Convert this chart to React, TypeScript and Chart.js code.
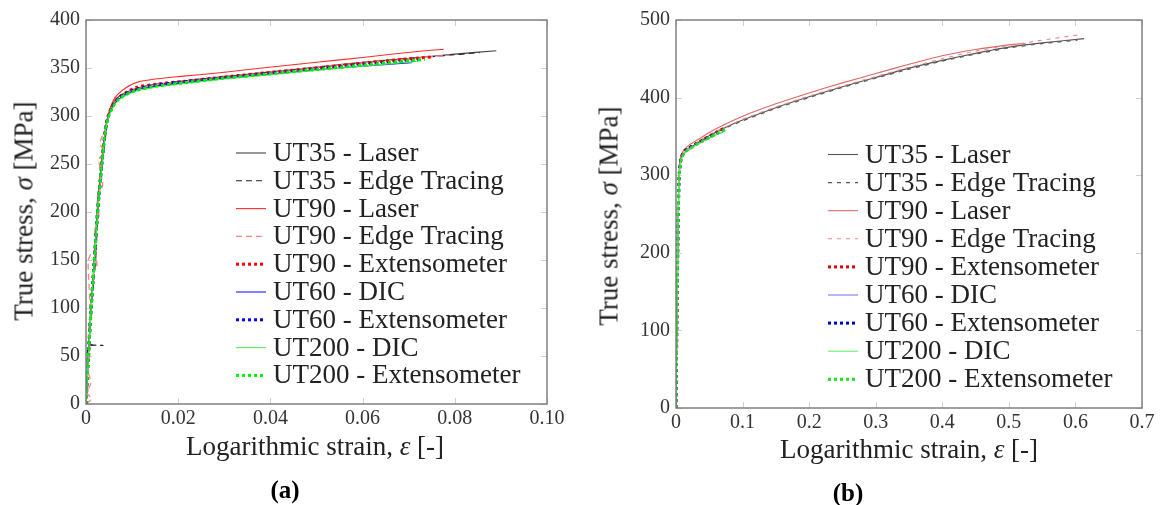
import React, { useEffect, useRef } from "react";
import { Chart, registerables } from "chart.js";

Chart.register(...registerables);

type Pt = [number, number];

// ---------- labels ----------
const SERIES_LABELS = [
  "UT35 - Laser",
  "UT35 - Edge Tracing",
  "UT90 - Laser",
  "UT90 - Edge Tracing",
  "UT90 - Extensometer",
  "UT60 - DIC",
  "UT60 - Extensometer",
  "UT200 - DIC",
  "UT200 - Extensometer",
];

// ---------- ticks ----------
const X_TICKS_A = [0, 0.02, 0.04, 0.06, 0.08, 0.1];
const X_TICK_LABELS_A = ["0", "0.02", "0.04", "0.06", "0.08", "0.10"];
const Y_TICKS_A = [0, 50, 100, 150, 200, 250, 300, 350, 400];
const X_TICKS_B = [0, 0.1, 0.2, 0.3, 0.4, 0.5, 0.6, 0.7];
const X_TICK_LABELS_B = ["0", "0.1", "0.2", "0.3", "0.4", "0.5", "0.6", "0.7"];
const Y_TICKS_B = [0, 100, 200, 300, 400, 500];

// ---------- data: panel (a) laser / edge tracing (strain, stress) ----------
const UT35_LASER_A: Pt[] = [
  [0, 0], [0.0005, 50], [0.0011, 100], [0.0018, 150], [0.00245, 200], [0.0034, 250],
  [0.0042, 285], [0.0048, 300], [0.0056, 311], [0.0066, 318], [0.008, 323], [0.011, 329],
  [0.015, 333], [0.02, 336], [0.03, 341], [0.04, 346], [0.05, 351], [0.06, 356],
  [0.0724, 361], [0.08, 364.5], [0.089, 368],
];
const UT35_EDGE_A: Pt[] = [
  [0, 0], [0.0003, 30], [0.0005, 60], [0.0037, 61], [0.0008, 63], [0.0012, 100],
  [0.0017, 130], [0.0021, 150], [0.0026, 200], [0.0033, 240], [0.0045, 288], [0.005, 300],
  [0.0058, 311], [0.0068, 318], [0.0085, 323], [0.011, 328], [0.015, 332], [0.02, 335.5],
  [0.03, 340.5], [0.04, 345.5], [0.05, 350.5], [0.06, 355.5], [0.07, 360], [0.078, 363],
  [0.0854, 366],
];
const UT90_LASER_A: Pt[] = [
  [0, 0], [0.0005, 50], [0.0011, 100], [0.0018, 150], [0.0024, 200], [0.0033, 250],
  [0.0044, 292], [0.0051, 306], [0.006, 317], [0.007, 323], [0.0085, 329], [0.011, 335],
  [0.015, 338.5], [0.02, 341], [0.029, 345], [0.0377, 349.7], [0.05, 356], [0.06, 361],
  [0.0724, 367.5], [0.0776, 369.5],
];
const UT90_EDGE_A: Pt[] = [
  [0, 0], [0.0012, 5], [0.0002, 12], [0.0011, 22], [0.0004, 35], [0.0009, 55],
  [0.0005, 72], [0.0009, 95], [0.0007, 120], [0.0005, 150], [0.0016, 160], [0.0024, 142],
  [0.0019, 180], [0.0028, 195], [0.0024, 215], [0.0036, 228], [0.0028, 255], [0.0039, 262],
  [0.003, 272], [0.0041, 285], [0.0048, 298], [0.0058, 311], [0.007, 319], [0.01, 327],
  [0.015, 332], [0.02, 336], [0.03, 341.5], [0.04, 346], [0.05, 351], [0.06, 355.5],
  [0.07, 359.5], [0.079, 363.5],
];

// ---------- data: extensometer / DIC (shared by both panels) ----------
const UT90_EXT: Pt[] = [
  [0, 0], [0.0005, 50], [0.0011, 100], [0.0018, 150], [0.0025, 200], [0.0034, 250],
  [0.0043, 290], [0.005, 303], [0.006, 313], [0.007, 319], [0.0085, 324], [0.011, 330],
  [0.015, 333], [0.02, 335.5], [0.03, 340.5], [0.04, 345.5], [0.05, 350], [0.06, 355],
  [0.0675, 358.5], [0.0752, 361.5],
];
const UT60_DIC: Pt[] = [
  [0, 0], [0.0005, 48], [0.0011, 98], [0.0018, 148], [0.0025, 198], [0.0034, 248],
  [0.0043, 288], [0.005, 301], [0.006, 311], [0.007, 317], [0.0085, 322], [0.011, 327],
  [0.015, 331], [0.02, 334], [0.03, 339], [0.04, 343.5], [0.05, 348], [0.06, 352],
  [0.0706, 355.5],
];
const UT60_EXT: Pt[] = [
  [0, 0], [0.0005, 49], [0.0011, 99], [0.0018, 149], [0.0025, 199], [0.0034, 249],
  [0.0043, 289], [0.005, 302], [0.006, 312], [0.007, 318], [0.0085, 323], [0.011, 328],
  [0.015, 332], [0.02, 335], [0.03, 340], [0.04, 344.5], [0.05, 349], [0.06, 353.5],
  [0.072, 358],
];
const UT200_DIC: Pt[] = [
  [0, 0], [0.0005, 48], [0.0011, 97], [0.0018, 147], [0.0025, 197], [0.0034, 247],
  [0.0043, 287], [0.005, 300], [0.006, 310], [0.007, 316], [0.0085, 321], [0.011, 326],
  [0.015, 330], [0.02, 333], [0.03, 338.5], [0.04, 343], [0.05, 347.5], [0.06, 352],
  [0.072, 357],
];
const UT200_EXT: Pt[] = [
  [0, 0], [0.0005, 49], [0.0011, 99], [0.0018, 149], [0.0025, 199], [0.0034, 249],
  [0.0043, 289], [0.005, 301], [0.006, 311], [0.007, 317], [0.0085, 322], [0.011, 327],
  [0.015, 331], [0.02, 334], [0.03, 339.5], [0.04, 344], [0.05, 348.5], [0.06, 353],
  [0.0735, 359],
];

// ---------- data: panel (b) laser / edge tracing ----------
const UT35_LASER_B: Pt[] = [
  [0, 0], [0.002, 150], [0.004, 280], [0.006, 315], [0.01, 326], [0.02, 334],
  [0.035, 343], [0.05, 351], [0.07, 360], [0.1, 371], [0.15, 387], [0.2, 401],
  [0.25, 414], [0.3, 426], [0.35, 438], [0.4, 448], [0.45, 457], [0.5, 465],
  [0.55, 470.5], [0.613, 476],
];
const UT35_EDGE_B: Pt[] = [
  [0, 0], [0.002, 145], [0.004, 275], [0.006, 313], [0.01, 325], [0.02, 333],
  [0.035, 342], [0.05, 350], [0.07, 359], [0.1, 370], [0.15, 386], [0.2, 400],
  [0.25, 413], [0.3, 425], [0.35, 436.5], [0.4, 447], [0.45, 456], [0.5, 464],
  [0.55, 469.5], [0.603, 474],
];
const UT90_LASER_B: Pt[] = [
  [0, 0], [0.002, 160], [0.004, 285], [0.006, 320], [0.01, 330], [0.02, 339],
  [0.035, 347], [0.05, 355], [0.07, 364], [0.1, 376], [0.15, 392], [0.2, 406],
  [0.25, 419], [0.3, 431], [0.35, 443], [0.4, 454], [0.45, 462], [0.5, 468],
  [0.525, 470],
];
const UT90_EDGE_B: Pt[] = [
  [0, 0], [0.003, 220], [0.005, 300], [0.01, 327], [0.02, 336], [0.05, 352],
  [0.1, 372], [0.15, 388], [0.2, 402], [0.25, 415], [0.3, 427], [0.35, 439],
  [0.4, 450], [0.45, 460], [0.5, 467], [0.55, 474], [0.61, 481.5],
];

// ---------- styles ----------
const DOT = [3, 3];
const STYLE_A = [
  { color: "#444444", dash: [], width: 1.1 },
  { color: "#222222", dash: [6, 4], width: 1.1 },
  { color: "#ff2a2a", dash: [], width: 1.1 },
  { color: "#ff8080", dash: [6, 4], width: 1.3 },
  { color: "#ff0000", dash: DOT, width: 3 },
  { color: "#1a1aff", dash: [], width: 1.1 },
  { color: "#0000ff", dash: DOT, width: 3 },
  { color: "#55f055", dash: [], width: 1.1 },
  { color: "#00f000", dash: DOT, width: 3 },
];
const STYLE_B = [
  { color: "#555555", dash: [], width: 1.1 },
  { color: "#555555", dash: [4, 5], width: 1.1 },
  { color: "#e06666", dash: [], width: 1.1 },
  { color: "#ee8888", dash: [4, 5], width: 1.1 },
  { color: "#e00000", dash: DOT, width: 3 },
  { color: "#7b7bf0", dash: [], width: 1.1 },
  { color: "#0000cc", dash: DOT, width: 3 },
  { color: "#66ee66", dash: [], width: 1.1 },
  { color: "#22dd22", dash: DOT, width: 3 },
];

const FONT = '"Liberation Serif", "Times New Roman", serif';

const framePlugin = {
  id: "frame",
  beforeDatasetsDraw(chart: any) {
    const { ctx, chartArea: a, scales } = chart;
    ctx.save();
    ctx.strokeStyle = "#cfcfcf";
    ctx.lineWidth = 1;
    const L = 6;
    ctx.beginPath();
    for (const t of scales.x.ticks) {
      const px = Math.round(scales.x.getPixelForValue(t.value)) + 0.5;
      ctx.moveTo(px, a.bottom);
      ctx.lineTo(px, a.bottom - L);
      ctx.moveTo(px, a.top);
      ctx.lineTo(px, a.top + L);
    }
    for (const t of scales.y.ticks) {
      const py = Math.round(scales.y.getPixelForValue(t.value)) + 0.5;
      ctx.moveTo(a.left, py);
      ctx.lineTo(a.left + L, py);
      ctx.moveTo(a.right, py);
      ctx.lineTo(a.right - L, py);
    }
    ctx.stroke();
    ctx.restore();
  },
  afterDatasetsDraw(chart: any) {
    const { ctx, chartArea: a } = chart;
    ctx.save();
    ctx.strokeStyle = "#777777";
    ctx.lineWidth = 1.4;
    ctx.strokeRect(a.left, a.top, a.right - a.left, a.bottom - a.top);
    ctx.restore();
  },
  afterDraw(chart: any, _args: any, opts: any) {
    const lg = opts && opts.legend;
    if (!lg) return;
    const { ctx } = chart;
    ctx.save();
    ctx.font = `${lg.fontSize}px ${FONT}`;
    ctx.textBaseline = "middle";
    chart.data.datasets.forEach((ds: any, i: number) => {
      const y = lg.y0 + i * lg.dy;
      ctx.beginPath();
      ctx.setLineDash(ds.borderDash || []);
      ctx.strokeStyle = ds.borderColor;
      ctx.lineWidth = ds.borderWidth;
      ctx.moveTo(lg.x0, y);
      ctx.lineTo(lg.x1, y);
      ctx.stroke();
      ctx.setLineDash([]);
      ctx.fillStyle = "#222222";
      ctx.fillText(ds.label, lg.tx, y + 1);
    });
    ctx.restore();
  },
};

function makeConfig(
  series: Pt[][],
  styles: { color: string; dash: number[]; width: number }[],
  xTicks: number[],
  xLabels: string[],
  yTicks: number[],
  xMax: number,
  yMax: number,
  padding: { left: number; right: number; top: number; bottom: number },
  legend: any
) {
  const n = series.length;
  return {
    type: "scatter" as const,
    data: {
      datasets: series.map((s, i) => ({
        label: SERIES_LABELS[i],
        data: s.map(([x, y]) => ({ x, y })),
        showLine: true,
        pointRadius: 0,
        borderColor: styles[i].color,
        backgroundColor: styles[i].color,
        borderDash: styles[i].dash,
        borderWidth: styles[i].width,
        tension: 0.2,
        order: n - i,
      })),
    },
    options: {
      responsive: false,
      animation: false as const,
      events: [],
      layout: { padding },
      plugins: {
        legend: { display: false },
        tooltip: { enabled: false },
        frame: { legend },
      },
      scales: {
        x: {
          type: "linear" as const,
          min: 0,
          max: xMax,
          afterBuildTicks: (s: any) => {
            s.ticks = xTicks.map((v) => ({ value: v }));
          },
          afterFit: (s: any) => {
            s.height = 40;
          },
          grid: { display: false, drawTicks: false },
          border: { display: false },
          ticks: {
            autoSkip: false,
            maxRotation: 0,
            padding: 3,
            color: "#333333",
            font: { family: FONT, size: 20 },
            callback: (_v: any, i: number) => xLabels[i],
          },
        },
        y: {
          type: "linear" as const,
          min: 0,
          max: yMax,
          afterBuildTicks: (s: any) => {
            s.ticks = yTicks.map((v) => ({ value: v }));
          },
          afterFit: (s: any) => {
            s.width = 60;
          },
          grid: { display: false, drawTicks: false },
          border: { display: false },
          ticks: {
            autoSkip: false,
            padding: 6,
            color: "#333333",
            font: { family: FONT, size: 20 },
            callback: (v: any) => String(v),
          },
        },
      },
    },
    plugins: [framePlugin],
  };
}

function Panel({ left, width, cfg }: { left: number; width: number; cfg: () => any }) {
  const ref = useRef<HTMLCanvasElement | null>(null);
  useEffect(() => {
    if (!ref.current) return;
    const chart = new Chart(ref.current, cfg());
    return () => chart.destroy();
  }, []);
  return (
    <canvas
      ref={ref}
      width={width}
      height={505}
      style={{ position: "absolute", left, top: 0, width, height: 505 }}
    />
  );
}

const textBase: React.CSSProperties = {
  position: "absolute",
  fontFamily: FONT,
  fontSize: 27,
  lineHeight: 1,
  whiteSpace: "nowrap",
  color: "#222222",
};

export default function App() {
  const cfgA = () =>
    makeConfig(
      [UT35_LASER_A, UT35_EDGE_A, UT90_LASER_A, UT90_EDGE_A, UT90_EXT, UT60_DIC, UT60_EXT, UT200_DIC, UT200_EXT],
      STYLE_A,
      X_TICKS_A,
      X_TICK_LABELS_A,
      Y_TICKS_A,
      0.1,
      400,
      { left: 26, right: 23, top: 20, bottom: 61 },
      { x0: 236, x1: 266, tx: 273, y0: 153, dy: 27.8, fontSize: 27 }
    );
  const cfgB = () =>
    makeConfig(
      [UT35_LASER_B, UT35_EDGE_B, UT90_LASER_B, UT90_EDGE_B, UT90_EXT, UT60_DIC, UT60_EXT, UT200_DIC, UT200_EXT],
      STYLE_B,
      X_TICKS_B,
      X_TICK_LABELS_B,
      Y_TICKS_B,
      0.7,
      500,
      { left: 46, right: 22, top: 20, bottom: 57 },
      { x0: 258, x1: 288, tx: 295, y0: 154.5, dy: 28.1, fontSize: 27 }
    );
  return (
    <div style={{ position: "absolute", left: 0, top: 0, width: 1164, height: 505, background: "#fff", overflow: "hidden" }}>
      <Panel left={0} width={570} cfg={cfgA} />
      <Panel left={570} width={594} cfg={cfgB} />
      <div style={{ ...textBase, left: 315, top: 446, transform: "translate(-50%, -50%)" }}>
        Logarithmic strain, <i>ε</i> [-]
      </div>
      <div style={{ ...textBase, left: 24, top: 211, transform: "translate(-50%, -50%) rotate(-90deg)" }}>
        True stress, <i>σ</i> [MPa]
      </div>
      <div style={{ ...textBase, left: 909, top: 449, transform: "translate(-50%, -50%)" }}>
        Logarithmic strain, <i>ε</i> [-]
      </div>
      <div style={{ ...textBase, left: 609, top: 216, transform: "translate(-50%, -50%) rotate(-90deg)" }}>
        True stress, <i>σ</i> [MPa]
      </div>
      <div style={{ ...textBase, fontSize: 25, fontWeight: "bold", color: "#000", left: 285, top: 489, transform: "translate(-50%, -50%)" }}>
        (a)
      </div>
      <div style={{ ...textBase, fontSize: 25, fontWeight: "bold", color: "#000", left: 848, top: 492, transform: "translate(-50%, -50%)" }}>
        (b)
      </div>
    </div>
  );
}
